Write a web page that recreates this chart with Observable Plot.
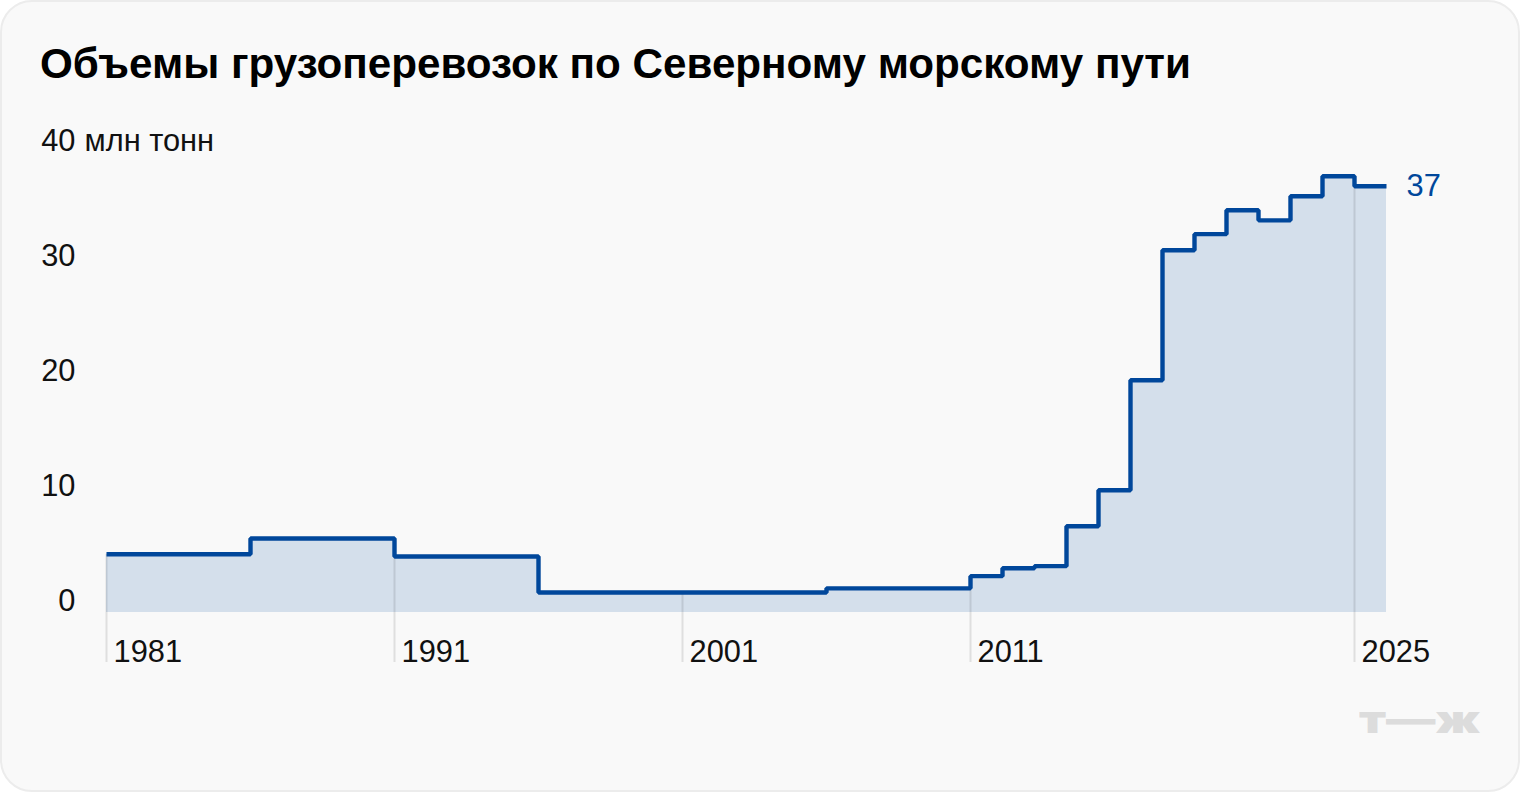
<!DOCTYPE html>
<html><head><meta charset="utf-8">
<script src="https://cdn.jsdelivr.net/npm/d3@7"></script>
<script src="https://cdn.jsdelivr.net/npm/@observablehq/plot@0.6"></script>
<style>
html,body{margin:0;padding:0;background:#fff}
#card{position:relative;width:1520px;height:792px;box-sizing:border-box;background:#f9f9f9;border:2px solid #ececec;border-radius:32px;overflow:hidden;font-family:"Liberation Sans",sans-serif}
#title{position:absolute;left:38px;top:37px;margin:0;font-size:42.2px;line-height:50px;font-weight:700;color:#000;white-space:nowrap}
#chart{position:absolute;left:-2px;top:98px;width:1520px}
#logo{position:absolute;left:1357px;top:695px;font:900 38px/44px Inter,sans-serif;color:#dcdcdc;transform-origin:0 0;transform:scaleX(1.3);white-space:nowrap}
</style></head><body>
<div id="card">
<h1 id="title">Объемы грузоперевозок по Северному морскому пути</h1>
<div id="chart"></div>
<div id="logo">т—ж</div>
</div>
<script>
const years = [1981,1986,1991,1996,2001,2006,2011,2012,2013,2016,2017,2018,2019,2020,2021,2022,2023,2024,2025];
const volumes = [5.07,6.43,4.87,1.74,1.74,2.1,3.16,3.85,4.03,7.5,10.63,20.2,31.5,32.9,34.98,34.1,36.2,37.94,37.07];
const tickYears = [1981,1991,2001,2011,2025];
const yTicks = [0,10,20,30,40];
const periodEnd = 2026;
const rows = years.map((year,i)=>({year,volume:volumes[i]}));
const stepped = [...rows,{year:periodEnd,volume:volumes[volumes.length-1]}];
const xDomain = stepped.map(d=>d.year);
const xRange = xDomain.map((y,i)=>106 + 144*Math.min(i,6) + 32*Math.max(0,i-6));
const blue = "#00479b";
const plot = Plot.plot({
  width:1520, height:680,
  marginLeft:106, marginTop:52, marginBottom:168, marginRight:134,
  style:{background:"transparent",fontFamily:"Liberation Sans, sans-serif",overflow:"visible"},
  x:{type:"linear",domain:xDomain,range:xRange,axis:null},
  y:{domain:[0,40]},
  marks:[
    Plot.areaY(stepped,{x:"year",y:"volume",curve:"step-after",fill:blue,fillOpacity:0.15}),
    Plot.ruleX(rows.filter(d=>tickYears.includes(d.year)),{x:"year",y1:"volume",y2:0,insetBottom:-50,stroke:"#000",strokeOpacity:0.1,strokeWidth:2}),
    Plot.lineY(stepped,{x:"year",y:"volume",curve:"step-after",stroke:blue,strokeWidth:4.4,strokeLinejoin:"miter",strokeLinecap:"butt"}),
    Plot.axisY({ticks:yTicks,tickSize:0,tickPadding:31,dy:-11,fontSize:30.8,label:null,color:"#111"}),
    Plot.text(["млн тонн"],{x:1981,y:40,dx:-22,dy:-11,textAnchor:"start",fontSize:30.8,fill:"#111"}),
    Plot.text(rows.filter(d=>tickYears.includes(d.year)),{x:"year",y:0,text:d=>String(d.year),dx:7,dy:40,textAnchor:"start",fontSize:30.8,fill:"#111"}),
    Plot.text(rows.slice(-1),{x:periodEnd,y:"volume",text:d=>String(Math.round(d.volume)),dx:20,textAnchor:"start",fontSize:30.8,fill:blue})
  ]
});
document.getElementById("chart").append(plot);
</script>
</body></html>
